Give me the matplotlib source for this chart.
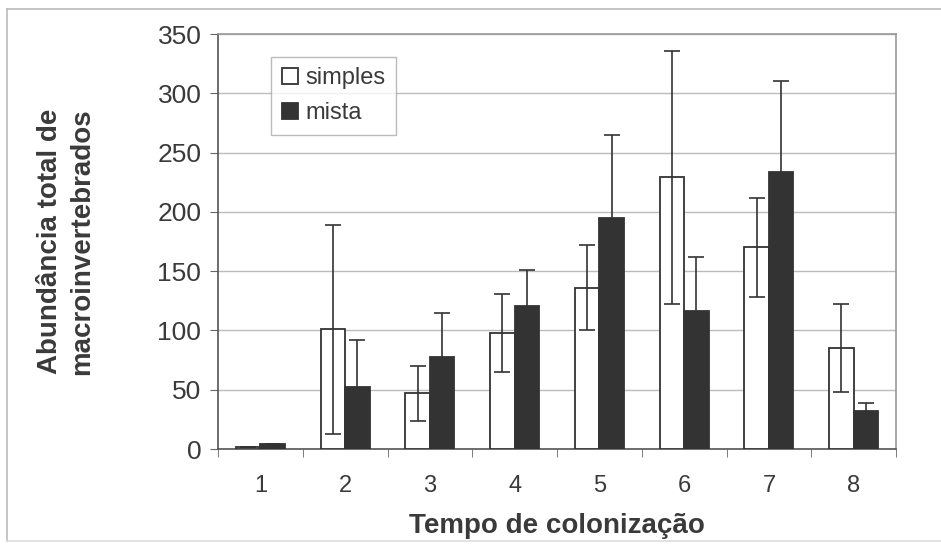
import matplotlib.pyplot as plt
import numpy as np
from matplotlib.lines import Line2D

plt.rcParams['font.family'] = ['Liberation Sans', 'DejaVu Sans']

categories = ['1', '2', '3', '4', '5', '6', '7', '8']
simples = [2, 101, 47, 98, 136, 229, 170, 85]
simples_err = [0, 88, 23, 33, 36, 107, 42, 37]
mista = [4, 52, 78, 121, 195, 116, 234, 32]
mista_err = [0, 40, 37, 30, 70, 46, 76, 7]

fig = plt.figure(figsize=(9.41, 5.45), dpi=100)
ax = fig.add_axes([0.2317, 0.1761, 0.7205, 0.7615])

x = np.arange(len(categories))
w = 0.29
ax.bar(x - w / 2, simples, w, color='white', edgecolor='#333333', linewidth=1.3,
       yerr=simples_err, error_kw=dict(ecolor='#333333', elinewidth=1.2, capsize=6, capthick=1.2),
       label='simples', zorder=3)
ax.bar(x + w / 2, mista, w, color='#333333', edgecolor='#333333', linewidth=1.3,
       yerr=mista_err, error_kw=dict(ecolor='#333333', elinewidth=1.2, capsize=6, capthick=1.2),
       label='mista', zorder=3)

ax.set_xlim(-0.5, len(categories) - 0.5)
ax.set_ylim(0, 350)
ax.set_yticks(range(0, 351, 50))
ax.set_xticks(x)
ax.set_xticklabels(categories)
ax.set_xticks(np.arange(-0.5, len(categories), 1), minor=True)
ax.tick_params(axis='x', which='major', length=0, pad=19, labelsize=17, labelcolor='#3a3a3a')
ax.tick_params(axis='x', which='minor', length=6, direction='out', color='#666666')
ax.tick_params(axis='y', length=6, direction='out', color='#666666', pad=6,
               labelsize=19, labelcolor='#3a3a3a')
ax.yaxis.grid(True, color='#bbbbbb', linewidth=1, zorder=0)
ax.set_axisbelow(True)

for s in ['left', 'bottom']:
    ax.spines[s].set_color('#555555')
    ax.spines[s].set_linewidth(1.2)
for s in ['top', 'right']:
    ax.spines[s].set_color('#999999')
    ax.spines[s].set_linewidth(1.2)

ax.set_xlabel('Tempo de colonização', fontsize=20, fontweight='bold', color='#3a3a3a', labelpad=11)
ax.set_ylabel('Abundância total de\nmacroinvertebrados', fontsize=20, fontweight='bold',
              color='#3a3a3a', labelpad=45, linespacing=1.3)

leg = ax.legend(loc='upper left', bbox_to_anchor=(0.061, 0.974), fontsize=17, frameon=True,
                fancybox=False, edgecolor='#aaaaaa', handlelength=0.7, handleheight=0.7,
                handletextpad=0.3, borderpad=0.45, labelspacing=0.55)
leg.get_frame().set_linewidth(1)
for t in leg.get_texts():
    t.set_color('#3a3a3a')

# outer frame of the figure
fig.add_artist(Line2D([7 / 941, 1], [1 - 9 / 545, 1 - 9 / 545], color='#bbbbbb', lw=1.2))
fig.add_artist(Line2D([7 / 941, 7 / 941], [1 - 9 / 545, 1 - 541 / 545], color='#bbbbbb', lw=1.2))
fig.add_artist(Line2D([7 / 941, 1], [1 - 541 / 545, 1 - 541 / 545], color='#dddddd', lw=1.2))

fig.savefig('out.png', dpi=100)
